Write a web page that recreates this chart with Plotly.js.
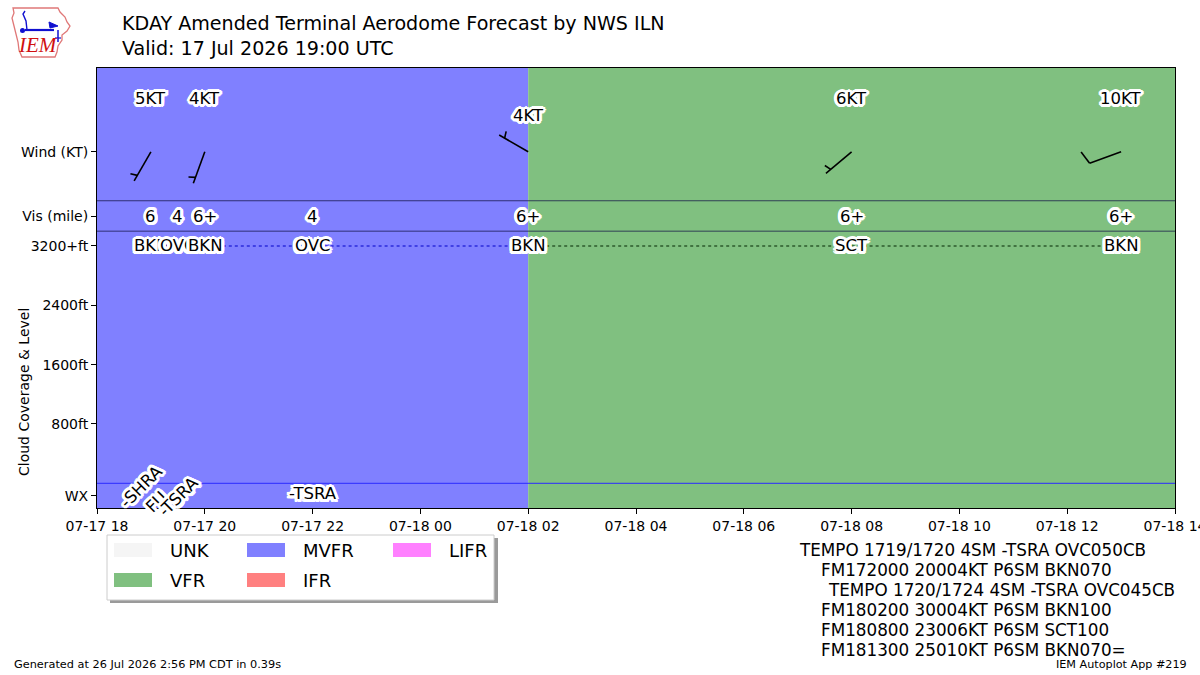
<!DOCTYPE html>
<html><head><meta charset="utf-8">
<script src="https://cdn.plot.ly/plotly-3.0.1.min.js"></script>
<style>body{margin:0;background:#fff}#chart{width:1200px;height:675px}</style>
</head><body><div id="chart"></div>
<script>
// ---------------- data ----------------
const categoryNames = ['UNK', 'VFR', 'MVFR', 'IFR', 'LIFR'];
const periodStart = ['2026-07-17 18:00', '2026-07-18 02:00'];
const periodEnd = ['2026-07-18 02:00', '2026-07-18 14:00'];
const periodCategory = ['MVFR', 'VFR'];

const windTimes = ['2026-07-17 19:00', '2026-07-17 20:00', '2026-07-18 02:00', '2026-07-18 08:00', '2026-07-18 13:00'];
const windDir = [210, 200, 300, 230, 250];
const windSpeed = [5, 4, 4, 6, 10];

const fcstTimes = ['2026-07-17 19:00', '2026-07-17 19:30', '2026-07-17 20:00', '2026-07-17 22:00', '2026-07-18 02:00', '2026-07-18 08:00', '2026-07-18 13:00'];
const visLabels = ['6', '4', '6+', '4', '6+', '6+', '6+'];
const cloudCover = ['BKN', 'OVC', 'BKN', 'OVC', 'BKN', 'SCT', 'BKN'];
const cloudLevelFt = [4000, 5000, 7000, 4500, 10000, 10000, 7000];

const wxTimes = ['2026-07-17 19:00', '2026-07-17 19:30', '2026-07-17 22:00'];
const wxLabels = ['-SHRA<br>FU', '-TSRA', '-TSRA'];

const yTickLabels = ['WX', '800ft', '1600ft', '2400ft', '3200+ft', 'Vis (mile)', 'Wind (KT)'];

const rawLines = [
  'TEMPO 1719/1720 4SM -TSRA OVC050CB',
  'FM172000 20004KT P6SM BKN070',
  'TEMPO 1720/1724 4SM -TSRA OVC045CB',
  'FM180200 30004KT P6SM BKN100',
  'FM180800 23006KT P6SM SCT100',
  'FM181300 25010KT P6SM BKN070='
];

// ---------------- style / layout ----------------
const catColor = {UNK: '#F5F5F5', VFR: '#80C080', MVFR: '#8080FF', IFR: '#FF8080', LIFR: '#FF80FF'};
const X0 = '2026-07-17 18:00', X1 = '2026-07-18 14:00';
const Y0 = -3.33, Y1 = 56.0;
const ROW_WIND = 44.7, ROW_VIS = 36.0, ROW_WX = -1.7, CAP = 32;
const PL = 97, PR = 1175, PT = 68, PB = 508;
const PW = PR - PL, PH = PB - PT;
const FONT = 'DejaVu Sans, Verdana, sans-serif';

function toMs(s) { return Date.parse(s.replace(' ', 'T') + ':00Z'); }
const pxPerMs = PW / (toMs(X1) - toMs(X0));
const pxPerY = PH / (Y1 - Y0);
const px = x => (x - PL) / PW;
const py = y => (PB - y) / PH;

const traces = [];
const shapes = [];
const ann = [];

// flight category backgrounds
periodCategory.forEach((c, i) => {
  shapes.push({type: 'rect', xref: 'x', yref: 'paper', x0: periodStart[i], x1: periodEnd[i], y0: 0, y1: 1,
    fillcolor: catColor[c], line: {width: 0}, layer: 'below'});
});

// separator lines
[[38.1, 'rgba(20,20,70,0.75)'], [34.0, 'rgba(20,20,70,0.75)'], [0, '#2a2aff']].forEach(([y, col]) => {
  shapes.push({type: 'line', xref: 'paper', yref: 'y', x0: 0, x1: 1, y0: y, y1: y, line: {color: col, width: 1}, layer: 'above'});
});

// cloud dotted line, colored per flight category segment
const cloudY = cloudLevelFt.map(v => Math.min(v / 100, CAP));
function catAt(t) {
  const m = toMs(t);
  for (let i = 0; i < periodCategory.length; i++) if (m >= toMs(periodStart[i]) && m < toMs(periodEnd[i])) return periodCategory[i];
  return 'UNK';
}
const dotColor = {MVFR: '#2b2bdc', VFR: '#2c5a2c', UNK: '#555', IFR: '#a33', LIFR: '#a3a'};
for (let i = 0; i < fcstTimes.length - 1; i++) {
  const c = catAt(fcstTimes[i]);
  traces.push({type: 'scatter', mode: 'lines', x: [fcstTimes[i], fcstTimes[i + 1]], y: [cloudY[i], cloudY[i + 1]],
    line: {color: dotColor[c], width: 1.6, dash: 'dot'}, hoverinfo: 'skip'});
}

// wind barbs
const L = 33.5;
function barbSegs(dir, spd) {
  const th = dir * Math.PI / 180;
  const u = [Math.sin(th), -Math.cos(th)];
  const p = [-u[1], u[0]];
  const segs = [[[0, 0], [L * u[0], L * u[1]]]];
  let r = Math.round(spd / 5) * 5;
  const nflag = Math.floor(r / 50); r -= nflag * 50;
  const nfull = Math.floor(r / 10); r -= nfull * 10;
  const half = r >= 5;
  const sp = 0.125 * L;
  let off = L;
  for (let i = 0; i < nfull; i++) {
    const b = [off * u[0], off * u[1]];
    segs.push([b, [b[0] + 0.4 * L * p[0] + 0.125 * L * u[0], b[1] + 0.4 * L * p[1] + 0.125 * L * u[1]]]);
    off -= sp;
  }
  if (half) {
    if (off === L) off -= 1.5 * sp;
    const b = [off * u[0], off * u[1]];
    segs.push([b, [b[0] + 0.2 * L * p[0] + 0.0625 * L * u[0], b[1] + 0.2 * L * p[1] + 0.0625 * L * u[1]]]);
  }
  return segs;
}
const bx = [], by = [];
windTimes.forEach((t, i) => {
  const t0 = toMs(t);
  barbSegs(windDir[i], windSpeed[i]).forEach(seg => {
    seg.forEach(pt => { bx.push(t0 + pt[0] / pxPerMs); by.push(ROW_WIND - pt[1] / pxPerY); });
    bx.push(null); by.push(null);
  });
});
traces.push({type: 'scatter', mode: 'lines', x: bx, y: by, line: {color: 'black', width: 1.6}, hoverinfo: 'skip', connectgaps: false});

// text labels with white halo (white copies offset around the black text)
const labelFont = {family: FONT, size: 16.5, color: 'black'};
const haloDirs = [];
[1.5, 3].forEach(rad => {
  for (let k = 0; k < 16; k++) { const a = k * Math.PI / 8; haloDirs.push([rad * Math.cos(a), rad * Math.sin(a)]); }
});
function haloAnn(a) {
  haloDirs.forEach(([dx, dy]) => {
    ann.push(Object.assign({}, a, {xshift: (a.xshift || 0) + dx, yshift: (a.yshift || 0) + dy,
      font: Object.assign({}, a.font, {color: '#ffffff'})}));
  });
  ann.push(a);
}
const windLabelShift = [53, 53, 36, 53, 53];
windTimes.forEach((t, i) => {
  haloAnn({xref: 'x', yref: 'y', x: t, y: ROW_WIND, yshift: windLabelShift[i], text: windSpeed[i] + 'KT', showarrow: false, font: labelFont});
});
fcstTimes.forEach((t, i) => {
  haloAnn({xref: 'x', yref: 'y', x: t, y: ROW_VIS, text: visLabels[i], showarrow: false, font: labelFont});
});
fcstTimes.forEach((t, i) => {
  haloAnn({xref: 'x', yref: 'y', x: t, y: cloudY[i], text: cloudCover[i], showarrow: false, font: labelFont});
});
const wxAngle = [-45, -45, 0];
const wxShift = [[-2, 2], [1, -1], [0, 2]];
wxTimes.forEach((t, i) => {
  haloAnn({xref: 'x', yref: 'y', x: t, y: ROW_WX, xshift: wxShift[i][0], yshift: wxShift[i][1], text: wxLabels[i], textangle: wxAngle[i], showarrow: false, font: labelFont});
});

// y-axis title (centered on cloud section)
ann.push({xref: 'paper', yref: 'paper', x: px(24), y: py(392), xanchor: 'center', yanchor: 'middle', text: 'Cloud Coverage & Level', textangle: -90,
  showarrow: false, font: {family: FONT, size: 14, color: 'black'}});

// titles
ann.push({xref: 'paper', yref: 'paper', x: px(120), y: py(24), xanchor: 'left', yanchor: 'middle', showarrow: false,
  text: 'KDAY Amended Terminal Aerodome Forecast by NWS ILN', font: {family: FONT, size: 19.1, color: 'black'}});
ann.push({xref: 'paper', yref: 'paper', x: px(120), y: py(48), xanchor: 'left', yanchor: 'middle', showarrow: false,
  text: 'Valid: 17 Jul 2026 19:00 UTC', font: {family: FONT, size: 19.1, color: 'black'}});

// legend (manual, matplotlib-like)
shapes.push({type: 'rect', xref: 'paper', yref: 'paper', x0: px(110), x1: px(498), y0: py(538), y1: py(603), fillcolor: '#9a9a9a', line: {width: 0}});
shapes.push({type: 'rect', xref: 'paper', yref: 'paper', x0: px(107), x1: px(494), y0: py(535), y1: py(600), fillcolor: 'white', line: {color: '#cccccc', width: 1}});
const legCol = [114, 247, 393];
const legRow = [550, 580];
categoryNames.forEach((c, i) => {
  const col = Math.floor(i / 2), row = i % 2;
  const x = legCol[col], y = legRow[row];
  shapes.push({type: 'rect', xref: 'paper', yref: 'paper', x0: px(x), x1: px(x + 38), y0: py(y - 7), y1: py(y + 7),
    fillcolor: catColor[c], line: {width: 0}});
  ann.push({xref: 'paper', yref: 'paper', x: px(x + 54), y: py(y), xanchor: 'left', yanchor: 'middle', showarrow: false,
    text: c, font: {family: FONT, size: 18, color: 'black'}});
});

// raw TAF text
const rawX = [797, 819, 826, 819, 819, 819];
rawLines.forEach((s, i) => {
  ann.push({xref: 'paper', yref: 'paper', x: px(rawX[i]), y: py(550 + 20 * i), xanchor: 'left', yanchor: 'middle', showarrow: false,
    text: s, font: {family: FONT, size: 16.8, color: 'black'}});
});

// footer
ann.push({xref: 'paper', yref: 'paper', x: px(12), y: py(664), xanchor: 'left', yanchor: 'middle', showarrow: false,
  text: 'Generated at 26 Jul 2026 2:56 PM CDT in 0.39s', font: {family: FONT, size: 11.3, color: 'black'}});
ann.push({xref: 'paper', yref: 'paper', x: px(1189), y: py(664), xanchor: 'right', yanchor: 'middle', showarrow: false,
  text: 'IEM Autoplot App #219', font: {family: FONT, size: 11.2, color: 'black'}});

// IEM logo (simplified)
function pathPx(pts, close) {
  return pts.map((p, i) => (i ? 'L' : 'M') + px(p[0]).toFixed(5) + ',' + py(p[1]).toFixed(5)).join(' ') + (close ? ' Z' : '');
}
shapes.push({type: 'path', xref: 'paper', yref: 'paper', path: pathPx([[13, 8], [58, 8], [60, 12], [65, 17], [67, 22], [70, 26], [67, 31], [62, 35], [62, 40], [58, 46], [57, 52], [55, 57], [22, 57], [19, 50], [18, 42], [16, 34], [14, 26], [12, 18], [14, 13]], true),
  line: {color: '#e07878', width: 1.3}, fillcolor: 'white'});
shapes.push({type: 'path', xref: 'paper', yref: 'paper', path: pathPx([[25, 30], [54, 30]]), line: {color: '#1010d0', width: 2.2}});
shapes.push({type: 'path', xref: 'paper', yref: 'paper', path: pathPx([[27, 30], [26, 21], [23, 14], [25, 11]]), line: {color: '#1010d0', width: 1.4}});
shapes.push({type: 'path', xref: 'paper', yref: 'paper', path: pathPx([[49, 22], [58, 26], [50, 28]], true), line: {color: '#1010d0', width: 1}, fillcolor: '#1010d0'});
shapes.push({type: 'path', xref: 'paper', yref: 'paper', path: pathPx([[58, 30], [58, 42]]), line: {color: '#1010d0', width: 1.5}});
shapes.push({type: 'path', xref: 'paper', yref: 'paper', path: pathPx([[55, 38], [61, 38]]), line: {color: '#1010d0', width: 1.2}});
shapes.push({type: 'circle', xref: 'paper', yref: 'paper', x0: px(20), x1: px(25), y0: py(28), y1: py(33), fillcolor: '#1010d0', line: {width: 0}});
ann.push({xref: 'paper', yref: 'paper', x: px(38), y: py(45), xanchor: 'center', yanchor: 'middle', showarrow: false, text: '<i>IEM</i>',
  font: {family: 'Liberation Serif, serif', size: 21, color: '#d01010'}});

const layout = {
  width: 1200, height: 675,
  margin: {l: PL, r: 1200 - PR, t: PT, b: 675 - PB, pad: 0},
  paper_bgcolor: 'white', plot_bgcolor: 'white',
  showlegend: false,
  font: {family: FONT, size: 14, color: 'black'},
  xaxis: {type: 'date', range: [X0, X1], dtick: 7200000, tick0: X0, tickformat: '%m-%d %H', ticklabeloverflow: 'allow',
    showgrid: false, zeroline: false, ticks: 'outside', ticklen: 5, tickcolor: 'black', tickwidth: 1,
    showline: true, linecolor: 'black', linewidth: 1, mirror: true, tickfont: {family: FONT, size: 14, color: 'black'}},
  yaxis: {range: [Y0, Y1], tickmode: 'array', tickvals: [ROW_WX, 8, 16, 24, 32, ROW_VIS, ROW_WIND], ticktext: yTickLabels,
    showgrid: false, zeroline: false, ticks: 'outside', ticklen: 5, tickcolor: 'black', tickwidth: 1,
    showline: true, linecolor: 'black', linewidth: 1, mirror: true, tickfont: {family: FONT, size: 14, color: 'black'}},
  shapes: shapes,
  annotations: ann
};

Plotly.newPlot('chart', traces, layout, {staticPlot: true, displayModeBar: false});
</script>
</body></html>
